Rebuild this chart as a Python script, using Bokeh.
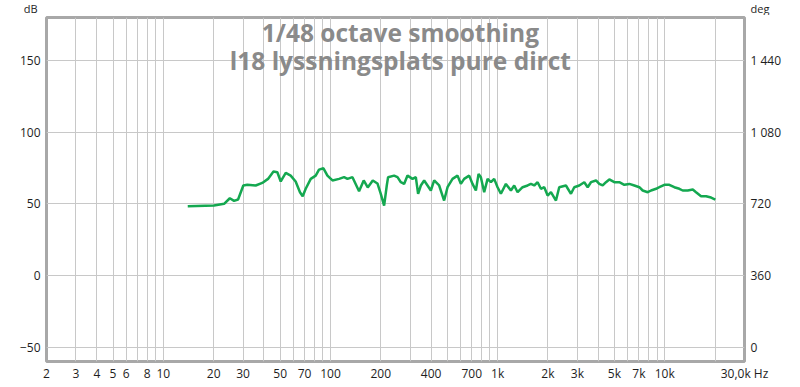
from bokeh.plotting import figure
from bokeh.layouts import column
from bokeh.models import FixedTicker, LinearAxis, Range1d, Label
from bokeh.embed import file_html
from bokeh.resources import INLINE

# ---- data ----
freq_hz = [14.0, 20.1, 23.1, 25.0, 26.5, 28.0, 30.1, 31.8, 35.7, 39.1,
           42.3, 45.6, 48.1, 50.4, 54.0, 57.8, 61.9, 65.7, 68.2, 71.1,
           76.2, 81.6, 85.4, 90.8, 95.9, 102.8, 112.6, 120.6, 126.4, 135.4,
           148.3, 158.1, 167.1, 179.1, 191.0,
           200.0, 209.4, 217.2, 221.2, 240.2, 251.8, 263.7, 275.8, 289.0, 309.7,
           324.1, 334.5, 347.3, 363.5, 380.8, 398.6, 417.3, 447.0, 478.6, 501.6,
           537.4, 575.8, 602.6, 630.8, 675.9, 708.0, 741.3, 769.2, 794.0, 831.2,
           871.0, 911.6, 953.9, 999.4, 1046, 1121, 1201, 1257, 1317, 1411,
           1512, 1582, 1656, 1735, 1816, 1901, 1992, 2085, 2234, 2337,
           2563, 2747, 2875, 3080, 3300, 3458, 3619,
           3877, 4058, 4253, 4451, 4659, 4990, 5346, 5728, 6138, 6577,
           7046, 7379, 7907, 8281, 8871, 9282, 9945, 10650, 11410, 12230,
           12810, 13730, 14710, 15390, 16490, 17670, 18930, 20080]
level_db = [48.3, 48.8, 50.0, 53.9, 52.1, 53.0, 62.8, 63.3, 62.8, 64.6,
            67.4, 72.5, 72.0, 65.6, 71.6, 69.7, 65.6, 58.1, 55.3, 60.5,
            67.4, 69.7, 73.9, 74.8, 69.7, 66.3, 67.4, 68.6, 67.4, 68.6,
            58.8, 66.3, 61.4, 66.3, 64.2,
            57.0, 48.8, 62.8, 68.6, 69.7, 68.6, 65.1, 63.9, 69.7, 67.4,
            68.6, 57.0, 62.8, 66.3, 62.8, 59.3, 66.3, 62.8, 52.3, 61.6,
            67.4, 69.7, 63.9, 67.4, 69.7, 63.9, 59.3, 70.9, 68.6, 58.1,
            67.4, 65.1, 67.4, 61.6, 57.0, 63.9, 59.3, 62.8, 58.1, 61.6,
            62.8, 63.9, 62.8, 65.1, 60.5, 61.6, 55.8, 58.1, 52.3, 61.6,
            62.8, 57.0, 61.6, 62.8, 65.1, 61.6, 65.1,
            66.3, 63.9, 62.8, 65.1, 67.0, 65.1, 65.1, 63.3, 63.9, 62.8,
            61.6, 59.3, 58.1, 59.3, 60.5, 61.6, 63.3, 63.3, 61.6, 60.5,
            59.3, 59.3, 60.0, 58.1, 55.3, 55.3, 54.4, 53.0]

x_tick_values = [2, 3, 4, 5, 6, 8, 10, 20, 30, 50, 70, 100, 200, 400, 700,
                 1000, 2000, 3000, 5000, 7000, 10000, 30000]
x_tick_labels = ["2", "3", "4", "5", "6", "8", "10", "20", "30", "50", "70",
                 "100", "200", "400", "700", "1k", "2k", "3k", "5k", "7k",
                 "10k", "30,0k Hz"]
x_grid_values = [2, 3, 4, 5, 6, 7, 8, 9,
                 10, 20, 30, 40, 50, 60, 70, 80, 90,
                 100, 200, 300, 400, 500, 600, 700, 800, 900,
                 1000, 2000, 3000, 4000, 5000, 6000, 7000, 8000, 9000,
                 10000, 20000]
db_ticks = [-50, 0, 50, 100, 150]
deg_ticks = [0, 360, 720, 1080, 1440]
deg_labels = ["0", "360", "720", "1 080", "1 440"]
title_lines = ["1/48 octave smoothing", "l18 lyssningsplats pure dirct"]
unit_labels = ["dB", "deg"]

FONT = "Open Sans"
LABEL_COLOR = "#1e1e1e"


def style_axis(ax, size="12px"):
    ax.axis_line_color = None
    ax.major_tick_line_color = None
    ax.minor_tick_line_color = None
    ax.major_tick_out = 0
    ax.major_tick_in = 0
    ax.minor_tick_out = 0
    ax.major_label_text_font = FONT
    ax.major_label_text_font_size = size
    ax.major_label_text_color = LABEL_COLOR


# ---- thin strip on top: its side axes carry the unit labels ----
strip = figure(width=800, height=15, x_range=(0, 1), y_range=(0, 15),
               output_backend="svg", toolbar_location=None,
               x_axis_location=None, y_axis_location="left",
               min_border=0, outline_line_color=None,
               background_fill_color="white", border_fill_color="white")
strip.grid.visible = False
s_left = strip.yaxis[0]
s_left.ticker = FixedTicker(ticks=[7.5])
s_left.major_label_overrides = {7.5: unit_labels[0]}
s_left.major_label_standoff = 9
style_axis(s_left, "11px")
s_right = LinearAxis(ticker=FixedTicker(ticks=[7.5]),
                     major_label_overrides={7.5: unit_labels[1]},
                     major_label_standoff=6)
style_axis(s_right, "11px")
strip.add_layout(s_right, "right")

# ---- main chart ----
p = figure(width=800, height=372, x_axis_type="log",
           x_range=(2, 30000), y_range=(-60, 180),
           output_backend="svg", toolbar_location=None,
           min_border_left=46, min_border_right=56,
           min_border_top=2, min_border_bottom=26,
           background_fill_color="white", border_fill_color="white")

p.extra_y_ranges = {"deg": Range1d(-72, 1656)}
right_axis = LinearAxis(y_range_name="deg")
p.add_layout(right_axis, "right")

xa = p.xaxis[0]
xa.ticker = FixedTicker(ticks=x_tick_values)
xa.major_label_overrides = {v: s for v, s in zip(x_tick_values, x_tick_labels)}
ya = p.yaxis[0]
ya.ticker = FixedTicker(ticks=db_ticks)
right_axis.ticker = FixedTicker(ticks=deg_ticks)
right_axis.major_label_overrides = {v: s for v, s in zip(deg_ticks, deg_labels)}

for ax in (xa, ya, right_axis):
    style_axis(ax)
xa.major_label_standoff = 3
ya.major_label_standoff = 6
right_axis.major_label_standoff = 6

p.xgrid.ticker = FixedTicker(ticks=x_grid_values)
p.ygrid.ticker = FixedTicker(ticks=db_ticks)
for g in (p.xgrid, p.ygrid):
    g.grid_line_color = "#c8c8c8"
    g.grid_line_width = 1
    g.grid_line_alpha = 1.0

p.outline_line_color = "#a8a8a8"
p.outline_line_width = 3

p.line(freq_hz, level_db, line_color="#14a850", line_width=2.5)

p.add_layout(Label(x=262, y=169.3, text=title_lines[0], text_font=FONT,
                   text_font_style="bold", text_font_size="24.5px",
                   text_color="#8a8a8a", text_align="center",
                   text_baseline="middle"))
p.add_layout(Label(x=262, y=149.8, text=title_lines[1], text_font=FONT,
                   text_font_style="bold", text_font_size="24.5px",
                   text_color="#8a8a8a", text_align="center",
                   text_baseline="middle"))

layout = column(strip, p, spacing=0)
open("out.html", "w").write(file_html(layout, INLINE))
